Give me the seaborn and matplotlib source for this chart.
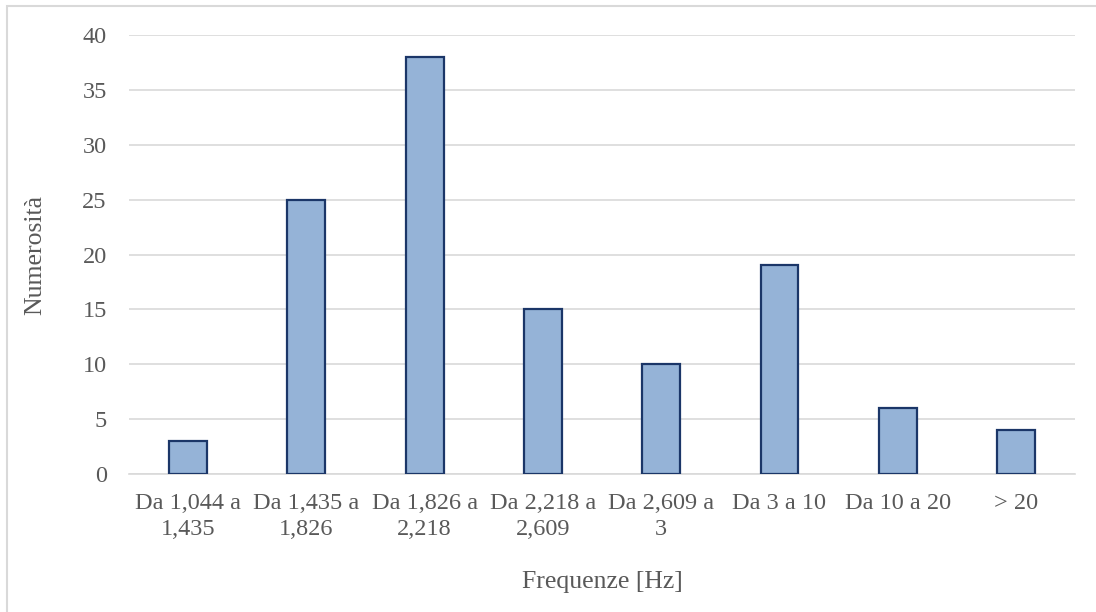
import matplotlib
matplotlib.use("Agg")
import matplotlib.pyplot as plt
import seaborn as sns
import pandas as pd
from matplotlib.patches import Rectangle

categories = ["Da 1,044 a\n1,435", "Da 1,435 a\n1,826", "Da 1,826 a\n2,218",
              "Da 2,218 a\n2,609", "Da 2,609 a\n3", "Da 3 a 10", "Da 10 a 20", "> 20"]
counts = [3, 25, 38, 15, 10, 19, 6, 4]
yticks = [0, 5, 10, 15, 20, 25, 30, 35, 40]

sns.set_theme(style="white")
plt.rcParams['font.family'] = ['Liberation Serif', 'DejaVu Serif']

df = pd.DataFrame({"cat": categories, "n": counts})

fig = plt.figure(figsize=(10.96, 6.12), dpi=100)
ax = fig.add_axes([0.1177, 0.2255, 0.8633, 0.7173])

sns.barplot(data=df, x="cat", y="n", ax=ax, color="#95B3D7", width=0.32,
            edgecolor="#1B3668", linewidth=1.6, saturation=1, zorder=3)

ax.set_ylim(0, 40)
ax.set_yticks(yticks)
ax.set_xlim(-0.5, len(categories) - 0.5)
ax.yaxis.grid(True, color="#D9D9D9", linewidth=1.2, zorder=0)
ax.set_axisbelow(True)
for s in ["top", "right", "left"]:
    ax.spines[s].set_visible(False)
ax.spines["bottom"].set_color("#D9D9D9")
ax.spines["bottom"].set_linewidth(1.2)

ax.tick_params(axis="both", length=0, labelsize=17.5, colors="#595959")
ax.tick_params(axis="x", pad=14)
ax.tick_params(axis="y", pad=16)
for lab in ax.get_xticklabels():
    lab.set_linespacing(1.3)
ax.set_xlabel("Frequenze [Hz]", fontsize=18.5, color="#595959", labelpad=22)
ax.set_ylabel("Numerosità", fontsize=18.5, color="#595959", labelpad=26)

fig.patches.append(Rectangle((0.006, -0.01), 1.1, 1.0, transform=fig.transFigure,
                             fill=False, edgecolor="#D9D9D9", linewidth=1.5))

fig.savefig("out.png", dpi=100)
